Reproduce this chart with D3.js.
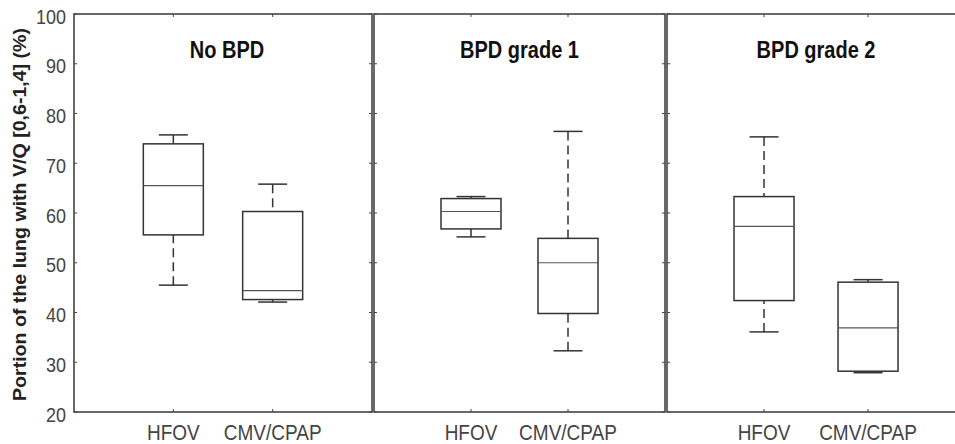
<!DOCTYPE html>
<html><head><meta charset="utf-8">
<script src="https://cdn.jsdelivr.net/npm/d3@7"></script>
<style>body{margin:0;background:#fff;}svg{display:block;}</style>
</head><body>
<script>
// ---- data ----
const groups = ["No BPD", "BPD grade 1", "BPD grade 2"];
const categories = ["HFOV", "CMV/CPAP"];
// per group, per category: [whisker low, q1, median, q3, whisker high]
const noBPD   = [[45.5, 55.6, 65.5, 73.9, 75.7], [42.1, 42.6, 44.4, 60.3, 65.8]];
const grade1  = [[55.2, 56.8, 60.3, 62.9, 63.3], [32.3, 39.8, 50.0, 54.9, 76.4]];
const grade2  = [[36.1, 42.4, 57.3, 63.3, 75.3], [27.9, 28.2, 36.9, 46.1, 46.6]];
const groupStats = [noBPD, grade1, grade2];
const yTicks = [20, 30, 40, 50, 60, 70, 80, 90, 100];
const yTitle = "Portion of the lung with V/Q [0,6-1,4] (%)";

// ---- layout ----
const W = 955, H = 444;
const plotTop = 14, plotBottom = 412;
const panels = [
  {left: 74,  right: 372, dom: [0, 3]},
  {left: 374, right: 665, dom: [0, 3]},
  {left: 667, right: 958, dom: [0.067, 2.865]}
];
const boxW = 60, capW = 29;
const lineCol = "#333", textCol = "#444";
const vs = 1.16; // vertical stretch of the source image text

const svg = d3.select("body").append("svg").attr("width", W).attr("height", H);
const y = d3.scaleLinear().domain([20, 100]).range([plotBottom, plotTop]);

function stretchedText(g, x, yy, txt, opts) {
  return g.append("text")
    .attr("transform", `translate(${x},${yy}) scale(1,${vs})`)
    .attr("text-anchor", opts.anchor || "middle")
    .attr("font-family", "Liberation Sans, Arial, sans-serif")
    .attr("font-size", opts.size)
    .attr("font-weight", opts.weight || "normal")
    .attr("fill", opts.fill || textCol)
    .text(txt);
}

panels.forEach((p, gi) => {
  const g = svg.append("g");
  const x = d3.scaleLinear().domain(p.dom).range([p.left, p.right]);
  const catPos = categories.map((c, i) => x(i + 1));

  g.append("rect").attr("x", p.left).attr("y", plotTop)
    .attr("width", p.right - p.left).attr("height", plotBottom - plotTop)
    .attr("fill", "none").attr("stroke", "#444").attr("stroke-width", 1.6);

  yTicks.forEach(t => {
    g.append("line").attr("x1", p.left).attr("x2", p.left + 3)
      .attr("y1", y(t)).attr("y2", y(t)).attr("stroke", "#444").attr("stroke-width", 1);
    g.append("line").attr("x1", p.right - 3).attr("x2", p.right)
      .attr("y1", y(t)).attr("y2", y(t)).attr("stroke", "#444").attr("stroke-width", 1);
  });
  catPos.forEach(cx => {
    g.append("line").attr("x1", cx).attr("x2", cx).attr("y1", plotBottom).attr("y2", plotBottom - 3)
      .attr("stroke", "#444").attr("stroke-width", 1);
    g.append("line").attr("x1", cx).attr("x2", cx).attr("y1", plotTop).attr("y2", plotTop + 3)
      .attr("stroke", "#444").attr("stroke-width", 1);
  });

  groupStats[gi].forEach((s, ci) => {
    const cx = catPos[ci];
    const [lo, q1, med, q3, hi] = s;
    g.append("line").attr("x1", cx).attr("x2", cx).attr("y1", y(hi)).attr("y2", y(q3))
      .attr("stroke", lineCol).attr("stroke-width", 1.5).attr("stroke-dasharray", "9,5");
    g.append("line").attr("x1", cx).attr("x2", cx).attr("y1", y(lo)).attr("y2", y(q1))
      .attr("stroke", lineCol).attr("stroke-width", 1.5).attr("stroke-dasharray", "9,5");
    [lo, hi].forEach(v => {
      g.append("line").attr("x1", cx - capW / 2).attr("x2", cx + capW / 2)
        .attr("y1", y(v)).attr("y2", y(v)).attr("stroke", lineCol).attr("stroke-width", 1.5);
    });
    g.append("rect").attr("x", cx - boxW / 2).attr("y", y(q3))
      .attr("width", boxW).attr("height", y(q1) - y(q3))
      .attr("fill", "#fff").attr("stroke", lineCol).attr("stroke-width", 1.5);
    g.append("line").attr("x1", cx - boxW / 2).attr("x2", cx + boxW / 2)
      .attr("y1", y(med)).attr("y2", y(med)).attr("stroke", "#555").attr("stroke-width", 1.2);
  });

  categories.forEach((c, ci) => {
    stretchedText(svg, catPos[ci], 440, c, {size: 19});
  });

  stretchedText(svg, x(1.5) + (gi === 0 ? 4 : 0), 58, groups[gi], {size: 20, weight: "bold", fill: "#111"});
});

yTicks.forEach(t => {
  stretchedText(svg, 66, y(t) + 9.5, String(t), {size: 18, anchor: "end"});
});

svg.append("text")
  .attr("transform", `translate(26,${(28 + 401) / 2}) rotate(-90)`)
  .attr("text-anchor", "middle")
  .attr("font-family", "Liberation Sans, Arial, sans-serif")
  .attr("font-size", 17.5)
  .attr("font-weight", "bold")
  .attr("fill", "#222")
  .attr("textLength", 373)
  .attr("lengthAdjust", "spacingAndGlyphs")
  .text(yTitle);
</script>
</body></html>
